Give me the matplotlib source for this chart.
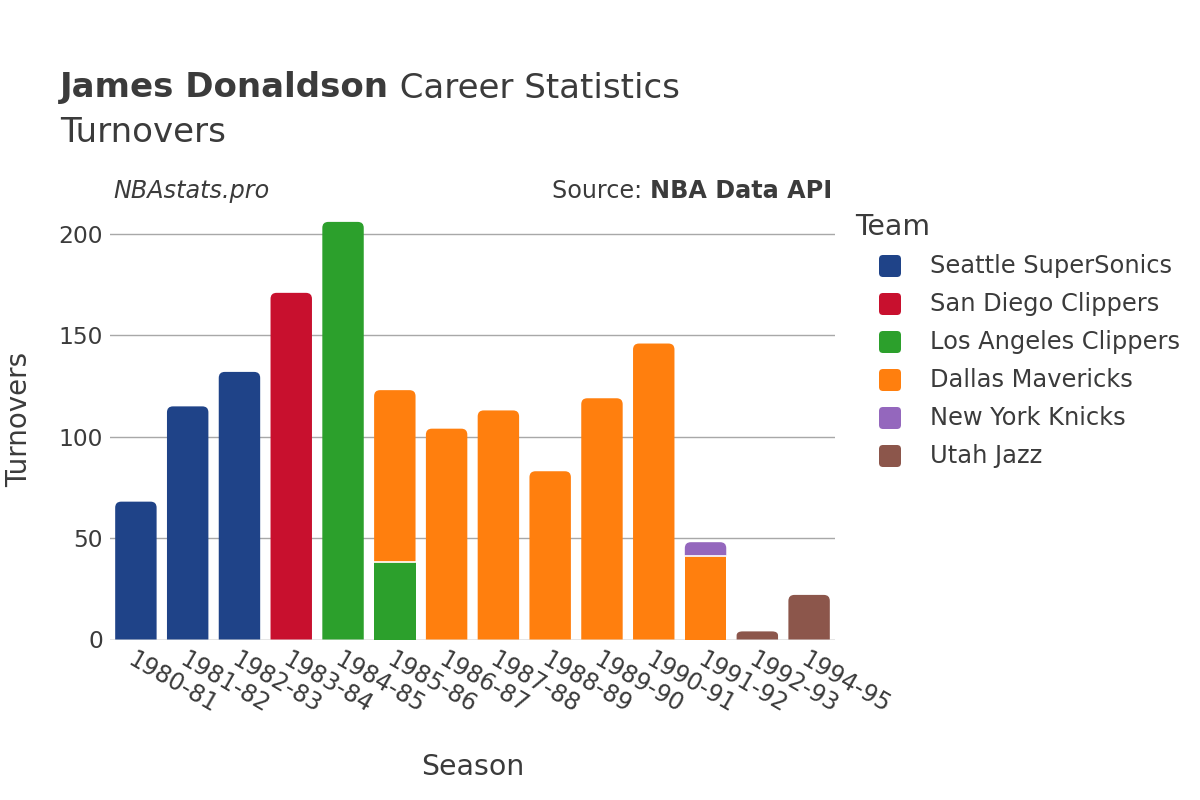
import numpy as np
import matplotlib.pyplot as plt
from matplotlib.patches import FancyBboxPatch, PathPatch
from matplotlib.path import Path

seasons = ["1980-81", "1981-82", "1982-83", "1983-84", "1984-85", "1985-86", "1986-87",
           "1987-88", "1988-89", "1989-90", "1990-91", "1991-92", "1992-93", "1994-95"]
teams = ["Seattle SuperSonics", "San Diego Clippers", "Los Angeles Clippers",
         "Dallas Mavericks", "New York Knicks", "Utah Jazz"]
colors = ["#1f4388", "#c8102e", "#2ca02c", "#ff7f0e", "#9467bd", "#8c564b"]

seattle = [68, 115, 132, 0, 0, 0, 0, 0, 0, 0, 0, 0, 0, 0]
san_diego = [0, 0, 0, 171, 0, 0, 0, 0, 0, 0, 0, 0, 0, 0]
la_clippers = [0, 0, 0, 0, 206, 38, 0, 0, 0, 0, 0, 0, 0, 0]
dallas = [0, 0, 0, 0, 0, 85, 104, 113, 83, 119, 146, 41, 0, 0]
knicks = [0, 0, 0, 0, 0, 0, 0, 0, 0, 0, 0, 7, 0, 0]
utah = [0, 0, 0, 0, 0, 0, 0, 0, 0, 0, 0, 0, 4, 22]
series = [seattle, san_diego, la_clippers, dallas, knicks, utah]

txt = "#3b3b3b"
plt.rcParams['font.family'] = ['DejaVu Sans']

fig = plt.figure(figsize=(12, 8), dpi=100)
ax = fig.add_axes([110 / 1200, 1 - 639.5 / 800, 725 / 1200, 439.5 / 800])

x = np.arange(len(seasons))
width = 0.8
ymax = 216.8
ax.set_xlim(-0.5, len(seasons) - 0.5)
ax.set_ylim(0, ymax)

# corner radius in data units (x and y differ)
r_px = 6
rx = r_px / (725 / len(seasons))
ry = r_px / (439.5 / ymax)


def bar_path(left, bottom, w, h, rounded):
    right, top = left + w, bottom + h
    if not rounded:
        verts = [(left, bottom), (right, bottom), (right, top), (left, top), (left, bottom)]
        codes = [Path.MOVETO] + [Path.LINETO] * 3 + [Path.CLOSEPOLY]
        return Path(verts, codes)
    yr = min(ry, h / 2)
    verts = [(left, bottom), (right, bottom), (right, top - yr),
             (right, top), (right - rx, top),
             (left + rx, top),
             (left, top), (left, top - yr),
             (left, bottom)]
    codes = [Path.MOVETO, Path.LINETO, Path.LINETO,
             Path.CURVE3, Path.CURVE3,
             Path.LINETO,
             Path.CURVE3, Path.CURVE3,
             Path.CLOSEPOLY]
    return Path(verts, codes)


totals = np.sum(np.array(series), axis=0)
bottoms = np.zeros(len(seasons))
for vals, col in zip(series, colors):
    for i, v in enumerate(vals):
        if v <= 0:
            continue
        b = bottoms[i]
        left = x[i] - width / 2
        top_seg = b + v >= totals[i]
        ax.add_patch(PathPatch(bar_path(left, b, width, v, top_seg),
                               facecolor=col, edgecolor="none", zorder=3))
        if b > 0:
            ax.plot([left, left + width], [b, b], color="white", lw=1.2, zorder=4)
        bottoms[i] += v

ax.set_yticks([0, 50, 100, 150, 200])
ax.grid(axis="y", color="#a8a8a8", linewidth=1)
ax.set_axisbelow(True)
ax.axhline(0, color="#e6e6e6", linewidth=2, zorder=2)
for s in ax.spines.values():
    s.set_visible(False)
ax.tick_params(axis="both", length=0, labelsize=16.8, labelcolor=txt)
ax.tick_params(axis="y", pad=5)
ax.set_xticks(x)
ax.set_xticklabels(seasons, rotation=-30, ha="left", va="top", rotation_mode="anchor")
ax.tick_params(axis="x", pad=6, labelsize=17)

ax.set_xlabel("Season", fontsize=20.4, color=txt, labelpad=25)
ax.set_ylabel("Turnovers", fontsize=20, color=txt, labelpad=18)

# titles
fig.canvas.draw()
r = fig.canvas.get_renderer()
t1 = fig.text(60 / 1200, 1 - 88 / 800, "James Donaldson", fontsize=24.5, fontweight="bold",
              color=txt, va="center", ha="left")
w1 = t1.get_window_extent(r).width
fig.text((60 + w1) / 1200, 1 - 88 / 800, " Career Statistics", fontsize=24.5,
         color=txt, va="center", ha="left")
fig.text(60 / 1200, 1 - 132 / 800, "Turnovers", fontsize=24.5, color=txt,
         va="center", ha="left")
fig.text(113 / 1200, 1 - 191 / 800, "NBAstats.pro", fontsize=17.2, style="italic",
         color=txt, va="center", ha="left")
t2 = fig.text(832 / 1200, 1 - 191 / 800, "NBA Data API", fontsize=17.2, fontweight="bold",
              color=txt, va="center", ha="right")
w2 = t2.get_window_extent(r).width
fig.text((832 - w2) / 1200, 1 - 191 / 800, "Source: ", fontsize=17.2,
         color=txt, va="center", ha="right")

# legend
fig.text(855 / 1200, 1 - 227 / 800, "Team", fontsize=20.4, color=txt, va="center", ha="left")
for k, (t, col) in enumerate(zip(teams, colors)):
    yc = 266 + 38 * k
    fig.patches.append(FancyBboxPatch((879, 800 - yc - 11), 22, 22,
                                      boxstyle="round,pad=0,rounding_size=4",
                                      transform=None, facecolor=col, edgecolor="none"))
    fig.text(930 / 1200, 1 - yc / 800, t, fontsize=17.4, color=txt,
             va="center", ha="left")

fig.savefig("out.png", dpi=100)
